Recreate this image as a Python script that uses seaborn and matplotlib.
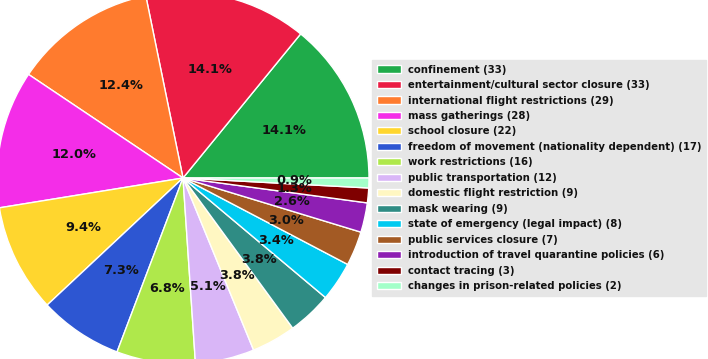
import matplotlib
matplotlib.use("Agg")
import matplotlib.pyplot as plt
import seaborn as sns

sns.set_style("white")
plt.rcParams['font.family'] = ['DejaVu Sans']

categories = [
    "confinement",
    "entertainment/cultural sector closure",
    "international flight restrictions",
    "mass gatherings",
    "school closure",
    "freedom of movement (nationality dependent)",
    "work restrictions",
    "public transportation",
    "domestic flight restriction",
    "mask wearing",
    "state of emergency (legal impact)",
    "public services closure",
    "introduction of travel quarantine policies",
    "contact tracing",
    "changes in prison-related policies",
]
counts = [33, 33, 29, 28, 22, 17, 16, 12, 9, 9, 8, 7, 6, 3, 2]
colors = [
    "#1fab4a", "#eb1c44", "#ff7b2e", "#f42de8", "#ffd62e",
    "#2d56d2", "#afe84b", "#d9b6f7", "#fff7c2", "#2f8c84",
    "#00caf0", "#a35a24", "#8e1fb3", "#7f0000", "#a3ffc9",
]

W, H = 708, 359
fig = plt.figure(figsize=(W / 100, H / 100), dpi=100)

cx, cy, r = 183, 178, 186
ax = fig.add_axes([(cx - r) / W, (H - cy - r) / H, 2 * r / W, 2 * r / H])
wedges, texts, autotexts = ax.pie(
    counts, colors=colors, startangle=0, counterclock=True,
    autopct="%1.1f%%", pctdistance=0.6, radius=1.0,
    textprops=dict(fontsize=9.3, fontweight="bold", color="#111111"),
)
ax.set_xlim(-1, 1)
ax.set_ylim(-1, 1)
ax.set_aspect("auto")
ax.axis("off")

labels = [f"{c} ({n})" for c, n in zip(categories, counts)]
leg = fig.legend(
    wedges, labels, loc="upper left",
    bbox_to_anchor=(372 / W, 1 - 60 / H), bbox_transform=fig.transFigure,
    borderaxespad=0, frameon=True, fancybox=False,
    prop=dict(size=7.3, weight="bold"),
    handlelength=2.4, handleheight=0.7, handletextpad=0.7,
    labelspacing=0.54, borderpad=0.45,
)
frame = leg.get_frame()
frame.set_facecolor("#e6e6e6")
frame.set_edgecolor("#e6e6e6")
frame.set_alpha(1)
for t in leg.get_texts():
    t.set_color("#111111")

fig.savefig("out.png", dpi=100)
